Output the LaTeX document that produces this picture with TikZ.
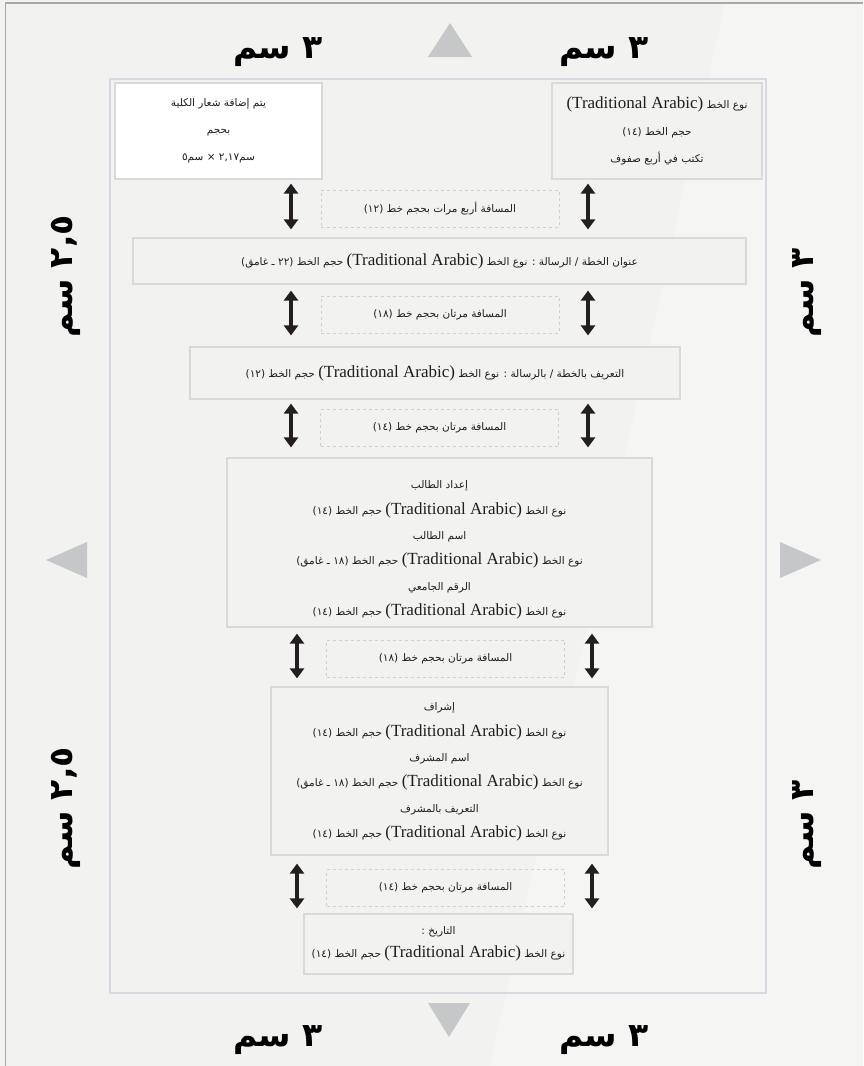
\documentclass[tikz,border=0pt]{standalone}
\usepackage{fontspec}
\setmainfont{Liberation Serif}
\newfontfamily\arabicfont[Script=Arabic]{DejaVu Sans}
\TeXXeTstate=1
\usetikzlibrary{arrows.meta}
\definecolor{bgc}{HTML}{F2F2F0}
\definecolor{bglight}{HTML}{F5F5F4}
\definecolor{outerc}{HTML}{A8A8A8}
\definecolor{framec}{HTML}{D8D9E0}
\definecolor{boxc}{HTML}{D9D9D9}
\definecolor{dashc}{HTML}{CFCFCF}
\definecolor{tric}{HTML}{C6C7C9}
\definecolor{arrc}{HTML}{231F20}
\definecolor{txtc}{HTML}{1E1E1E}
\newcommand\AR[1]{{\arabicfont\beginR #1\endR}}
\newcommand\TAr{\beginL{\rmfamily\fontsize{17}{18}\selectfont(Traditional Arabic)}\endL{}}
\begin{document}
\begin{tikzpicture}[x=1pt,y=-1pt,
  box/.style={draw=boxc, line width=1.2pt, fill=bgc, inner sep=0pt, align=center, text=txtc, font=\fontsize{10.5}{25.3}\selectfont},
  txt/.style={inner sep=0pt, align=center, text=txtc, font=\fontsize{10.5}{25.3}\selectfont},
  gapbox/.style={draw=dashc, dashed, line width=0.9pt, inner sep=0pt, minimum width=238pt, minimum height=37pt, text=txtc, font=\fontsize{10.5}{12}\selectfont},
  dbl/.style={draw=arrc, line width=4.5pt, {Triangle[width=14pt,length=10pt]}-{Triangle[width=14pt,length=10pt]}},
  tri/.style={fill=tric, draw=none},
  big/.style={inner sep=0pt, font=\fontsize{33}{33}\selectfont\bfseries, text=black}
]
\useasboundingbox (0,0) rectangle (863,1066);
\fill[bgc] (0,0) rectangle (863,1066);
\fill[bglight] (725,3) -- (863,3) -- (863,1066) -- (490,1066) -- cycle;
\draw[outerc, line width=1.5pt] (5.5,1066) -- (5.5,3) -- (863,3);
\draw[framec, line width=1.5pt] (110,79) rectangle (766,993);

% triangles
\fill[tri] (450,23) -- (472,57) -- (428,57) -- cycle;
\fill[tri] (428,1003) -- (470,1003) -- (449,1037) -- cycle;
\fill[tri] (46,560) -- (87,542) -- (87,578) -- cycle;
\fill[tri] (821,560) -- (780,542) -- (780,578) -- cycle;

% margin labels
\node[big] (t1) at (278,52) {\AR{٣ سم}};
\node[big] (t2) at (604,52) {\AR{٣ سم}};
\node[big] (b1) at (278,1040) {\AR{٣ سم}};
\node[big] (b2) at (604,1040) {\AR{٣ سم}};
\node[big, rotate=90, anchor=west] (l1) at (66,338) {\AR{٢,٥ سم}};
\node[big, rotate=90, anchor=west] (l2) at (66,870) {\AR{٢,٥ سم}};
\node[big, rotate=90, anchor=west] (r1) at (807,338) {\AR{٣ سم}};
\node[big, rotate=90, anchor=west] (r2) at (807,870) {\AR{٣ سم}};

% boxes
\node[box, fill=white, minimum width=207pt, minimum height=96pt, font=\fontsize{10.5}{27}\selectfont] (logo) at (218.5,131)
  {\AR{يتم إضافة شعار الكلية}\\\AR{بحجم}\\\AR{سم٢,١٧ × سم٥}};
\node[box, minimum width=210pt, minimum height=96pt, font=\fontsize{10.5}{27}\selectfont] (fontbox) at (657,131)
  {\AR{نوع الخط \TAr}\\\AR{حجم الخط (١٤)}\\\AR{تكتب في أربع صفوف}};
\node[gapbox] (gapA) at (440,208.5) {\AR{المسافة أربع مرات بحجم خط (١٢)}};
\node[box, minimum width=613pt, minimum height=46pt] (title) at (439.5,261)
  {\AR{عنوان الخطة / الرسالة : نوع الخط \TAr{} حجم الخط (٢٢ ـ غامق)}};
\node[gapbox] (gapB) at (440,314.5) {\AR{المسافة مرتان بحجم خط (١٨)}};
\node[box, minimum width=490pt, minimum height=52pt] (intro) at (435,373)
  {\AR{التعريف بالخطة / بالرسالة : نوع الخط \TAr{} حجم الخط (١٢)}};
\node[gapbox] (gapC) at (439.5,428) {\AR{المسافة مرتان بحجم خط (١٤)}};
\node[box, minimum width=425pt, minimum height=169pt] (student) at (439.5,542.5) {};
\node[txt] (studentT) at (439.5,550)
  {\AR{إعداد الطالب}\\
   \AR{نوع الخط \TAr{} حجم الخط (١٤)}\\
   \AR{اسم الطالب}\\
   \AR{نوع الخط \TAr{} حجم الخط (١٨ ـ غامق)}\\
   \AR{الرقم الجامعي}\\
   \AR{نوع الخط \TAr{} حجم الخط (١٤)}};
\node[gapbox] (gapD) at (445.5,658.5) {\AR{المسافة مرتان بحجم خط (١٨)}};
\node[box, minimum width=337pt, minimum height=168pt] (super) at (439.5,771) {};
\node[txt] (superT) at (439.5,772)
  {\AR{إشراف}\\
   \AR{نوع الخط \TAr{} حجم الخط (١٤)}\\
   \AR{اسم المشرف}\\
   \AR{نوع الخط \TAr{} حجم الخط (١٨ ـ غامق)}\\
   \AR{التعريف بالمشرف}\\
   \AR{نوع الخط \TAr{} حجم الخط (١٤)}};
\node[gapbox] (gapE) at (445.5,888) {\AR{المسافة مرتان بحجم خط (١٤)}};
\node[box, minimum width=269pt, minimum height=60pt, font=\fontsize{10.5}{23}\selectfont] (date) at (438.5,944)
  {\AR{التاريخ :}\\\AR{نوع الخط \TAr{} حجم الخط (١٤)}};

% arrows
\coordinate (ax1) at (291,0);
\coordinate (ax2) at (588,0);
\coordinate (bx1) at (297,0);
\coordinate (bx2) at (592,0);
\draw[dbl, shorten <=4pt, shorten >=8pt] (ax1 |- logo.south) -- (ax1 |- title.north);
\draw[dbl, shorten <=4pt, shorten >=8pt] (ax2 |- fontbox.south) -- (ax2 |- title.north);
\draw[dbl, shorten <=6pt, shorten >=11pt] (ax1 |- title.south) -- (ax1 |- intro.north);
\draw[dbl, shorten <=6pt, shorten >=11pt] (ax2 |- title.south) -- (ax2 |- intro.north);
\draw[dbl, shorten <=4pt, shorten >=10pt] (ax1 |- intro.south) -- (ax1 |- student.north);
\draw[dbl, shorten <=4pt, shorten >=10pt] (ax2 |- intro.south) -- (ax2 |- student.north);
\draw[dbl, shorten <=6pt, shorten >=8pt] (bx1 |- student.south) -- (bx1 |- super.north);
\draw[dbl, shorten <=6pt, shorten >=8pt] (bx2 |- student.south) -- (bx2 |- super.north);
\draw[dbl, shorten <=8pt, shorten >=5pt] (bx1 |- super.south) -- (bx1 |- date.north);
\draw[dbl, shorten <=8pt, shorten >=5pt] (bx2 |- super.south) -- (bx2 |- date.north);
\end{tikzpicture}
\end{document}
